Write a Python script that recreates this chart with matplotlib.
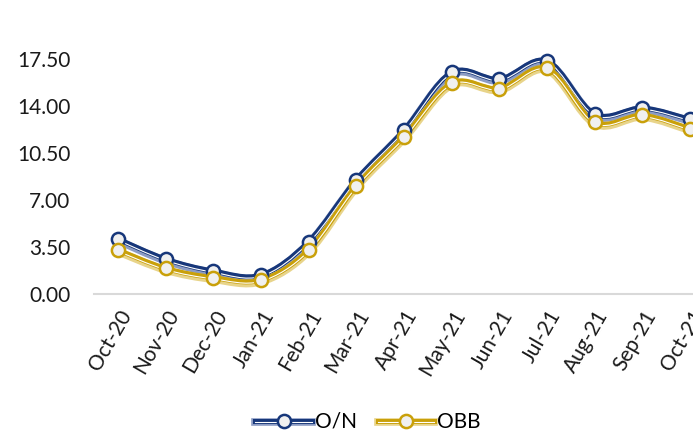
import matplotlib
matplotlib.use("Agg")
import matplotlib.pyplot as plt
import matplotlib.patheffects as pe
from matplotlib.path import Path
from matplotlib.patches import PathPatch
from matplotlib.lines import Line2D
from matplotlib.legend_handler import HandlerTuple
import numpy as np

months = ["Oct-20", "Nov-20", "Dec-20", "Jan-21", "Feb-21", "Mar-21", "Apr-21",
          "May-21", "Jun-21", "Jul-21", "Aug-21", "Sep-21", "Oct-21"]
on_rate = [4.10, 2.60, 1.71, 1.41, 3.90, 8.50, 12.20, 16.50, 16.00, 17.35, 13.40, 13.85, 13.00]
obb_rate = [3.28, 1.91, 1.22, 1.04, 3.28, 8.05, 11.70, 15.70, 15.30, 16.80, 12.80, 13.30, 12.30]
yticks = [0.0, 3.5, 7.0, 10.5, 14.0, 17.5]

plt.rcParams['font.family'] = ['Lato', 'DejaVu Sans']

NAVY = "#17377a"
NAVY_LIGHT = "#8c9cc4"
GOLD = "#c9a00a"
GOLD_LIGHT = "#e8d48a"

W, H = 693, 433
fig = plt.figure(figsize=(W / 100, H / 100), dpi=100)
ax = fig.add_axes([94 / W, (H - 294) / H, (714 - 94) / W, (294 - 59) / H])


def smooth_path(xs, ys):
    pts = np.column_stack([xs, ys]).astype(float)
    n = len(pts)
    verts = [pts[0]]
    codes = [Path.MOVETO]
    for i in range(n - 1):
        p0 = pts[i - 1] if i > 0 else pts[i]
        p1 = pts[i]
        p2 = pts[i + 1]
        p3 = pts[i + 2] if i + 2 < n else pts[i + 1]
        c1 = p1 + (p2 - p0) / 6.0
        c2 = p2 - (p3 - p1) / 6.0
        verts += [c1, c2, p2]
        codes += [Path.CURVE4] * 3
    return Path(verts, codes)


def effects(dark, light):
    return [
        pe.Stroke(offset=(0, -1.2), linewidth=5.5, foreground=light),
        pe.Stroke(linewidth=3.6, foreground=dark),
        pe.Stroke(offset=(0, -0.9), linewidth=0.8, foreground="white"),
    ]


x = np.arange(len(months))
for vals, dark, light, label in [(on_rate, NAVY, NAVY_LIGHT, "O/N"),
                                 (obb_rate, GOLD, GOLD_LIGHT, "OBB")]:
    patch = PathPatch(smooth_path(x, vals), facecolor="none", edgecolor=dark,
                      lw=3.6, clip_on=False, zorder=3)
    patch.set_path_effects(effects(dark, light))
    ax.add_patch(patch)
    ax.plot(x, vals, linestyle="none", marker="o", markersize=9.5,
            markerfacecolor="#f0f0f0", markeredgecolor=dark, markeredgewidth=1.8,
            clip_on=False, zorder=4)

ax.set_xlim(-0.5, len(months) - 0.5)
ax.set_ylim(0, 17.5)
ax.set_yticks(yticks)
ax.set_yticklabels([f"{v:.2f}" for v in yticks])
ax.set_xticks(x)
ax.set_xticklabels(months, rotation=60, ha="right", rotation_mode="anchor")

for s in ["top", "right", "left"]:
    ax.spines[s].set_visible(False)
ax.spines["bottom"].set_color("#d9d9d9")
ax.spines["bottom"].set_linewidth(1.5)
ax.tick_params(axis="both", length=0, labelsize=15, colors="#1a1a1a")
ax.tick_params(axis="y", pad=17)
ax.tick_params(axis="x", pad=9)

handles = []
labels = []
for dark, light, label in [(NAVY, NAVY_LIGHT, "O/N"), (GOLD, GOLD_LIGHT, "OBB")]:
    ln = Line2D([], [], color=dark, lw=3.6)
    ln.set_path_effects(effects(dark, light))
    mk = Line2D([], [], linestyle="none", marker="o", markersize=9.5,
                markerfacecolor="#f0f0f0", markeredgecolor=dark, markeredgewidth=1.8)
    handles.append((ln, mk))
    labels.append(label)
fig.legend(handles=handles, labels=labels, loc="center",
           bbox_to_anchor=(368 / W, 1 - 422 / H),
           handler_map={tuple: HandlerTuple(ndivide=1, pad=0)},
           ncol=2, frameon=False, fontsize=15, handlelength=2.7, columnspacing=1.0,
           handletextpad=0.15)

fig.savefig("out.png", dpi=100)
